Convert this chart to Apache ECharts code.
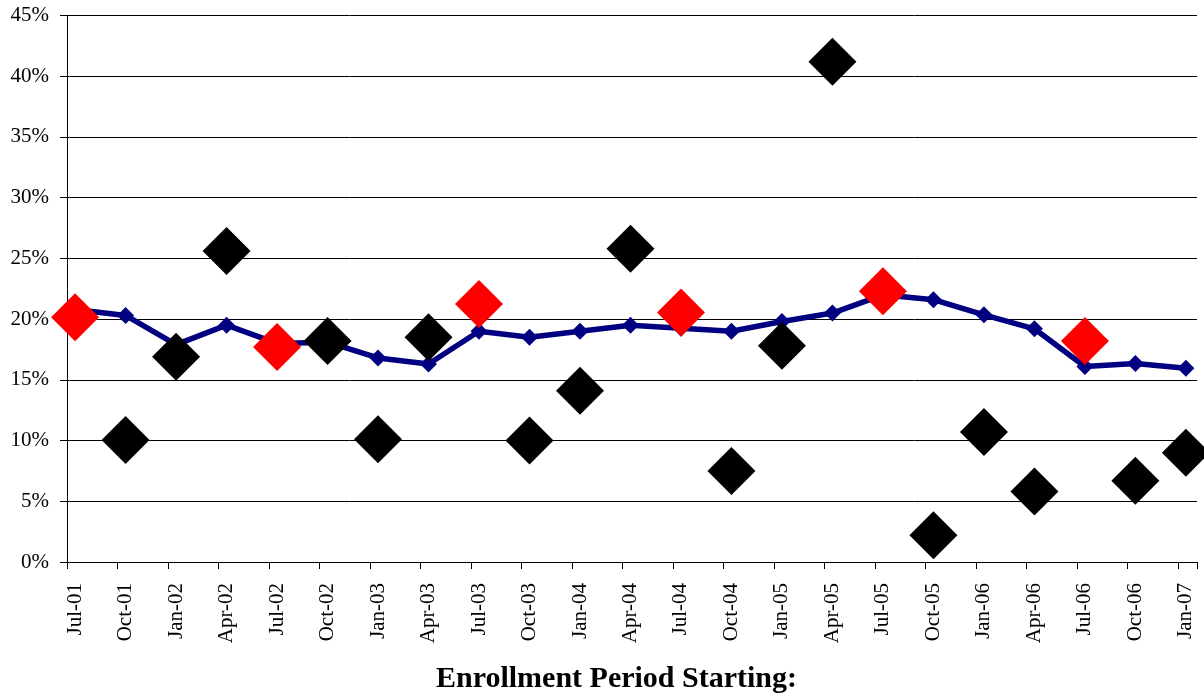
<!DOCTYPE html>
<html>
<head>
<meta charset="utf-8">
<script src="https://cdn.jsdelivr.net/npm/echarts@6/dist/echarts.min.js"></script>
<style>
  html, body { margin: 0; padding: 0; background: #fff; }
  #chart { width: 1204px; height: 698px; }
</style>
</head>
<body>
<div id="chart"></div>
<script>
// quarters (enrollment period start)
var periods = ['Jul-01','Oct-01','Jan-02','Apr-02','Jul-02','Oct-02','Jan-03','Apr-03','Jul-03','Oct-03',
               'Jan-04','Apr-04','Jul-04','Oct-04','Jan-05','Apr-05','Jul-05','Oct-05','Jan-06','Apr-06',
               'Jul-06','Oct-06','Jan-07'];
// blue line (%)
var lineRate = [20.8, 20.3, 17.9, 19.5, 18.0, 18.1, 16.8, 16.3, 19.0, 18.5,
                19.0, 19.5, 19.25, 19.0, 19.8, 20.5, 22.0, 21.6, 20.35, 19.2,
                16.1, 16.35, 15.95];
// big diamonds (%)
var periodRate = [20.15, 10.05, 16.9, 25.6, 17.7, 18.2, 10.1, 18.5, 21.25, 10.0,
                  14.1, 25.8, 20.55, 7.5, 17.8, 41.2, 22.3, 2.2, 10.7, 5.8,
                  18.2, 6.7, 9.0];
var yTicks = [0, 45, 5]; // min, max, step
var xTitle = 'Enrollment Period Starting:';

var FONT = "'Liberation Serif', 'Times New Roman', serif";

var lineData = [], redData = [], blackData = [];
for (var i = 0; i < periods.length; i++) {
    lineData.push([i, lineRate[i]]);
    if (periods[i].indexOf('Jul') === 0) {
        redData.push([i, periodRate[i]]);   // July starts in red
    } else {
        blackData.push([i, periodRate[i]]);
    }
}
var labelIdx = [];
for (var k = 0; k < periods.length; k++) labelIdx.push(k);

var chart = echarts.init(document.getElementById('chart'));
var option = {
    animation: false,
    backgroundColor: '#fff',
    grid: { left: 67, right: 7, top: 15.5, bottom: 136, outerBoundsMode: 'none', containLabel: false },
    graphic: [{
        type: 'text',
        x: 616.5,
        y: 679,
        style: {
            text: xTitle,
            fill: '#000',
            font: 'bold 30px ' + FONT,
            align: 'center',
            verticalAlign: 'middle'
        }
    }],
    xAxis: {
        type: 'value',
        min: -0.16,
        max: 22.22,
        interval: 1,
        axisLine: { show: true, onZero: false, lineStyle: { color: '#000', width: 1 } },
        axisTick: { show: true, length: 7, lineStyle: { color: '#000' } },
        splitLine: { show: false },
        axisLabel: {
            customValues: labelIdx,
            rotate: 90,
            margin: 21,
            fontFamily: FONT,
            fontSize: 21,
            color: '#000',
            formatter: function (v) { return periods[Math.round(v)]; }
        }
    },
    yAxis: {
        type: 'value',
        min: yTicks[0],
        max: yTicks[1],
        interval: yTicks[2],
        axisLine: { show: true, onZero: false, lineStyle: { color: '#000', width: 1 } },
        axisTick: { show: true, length: 7, lineStyle: { color: '#000' } },
        splitLine: { show: true, lineStyle: { color: '#000', width: 1 } },
        axisLabel: {
            formatter: '{value}%',
            margin: 18,
            fontFamily: FONT,
            fontSize: 21,
            color: '#000'
        }
    },
    series: [
        {
            name: 'line',
            type: 'line',
            data: lineData,
            symbol: 'diamond',
            symbolSize: 17,
            showAllSymbol: true,
            lineStyle: { color: '#000080', width: 5.5 },
            itemStyle: { color: '#000080' },
            z: 2
        },
        {
            name: 'jul',
            type: 'scatter',
            data: redData,
            symbol: 'diamond',
            symbolSize: 48,
            itemStyle: { color: '#ff0000', opacity: 1 },
            z: 3
        },
        {
            name: 'other',
            type: 'scatter',
            data: blackData,
            symbol: 'diamond',
            symbolSize: 48,
            itemStyle: { color: '#000000', opacity: 1 },
            z: 4
        }
    ]
};
chart.setOption(option);
</script>
</body>
</html>
